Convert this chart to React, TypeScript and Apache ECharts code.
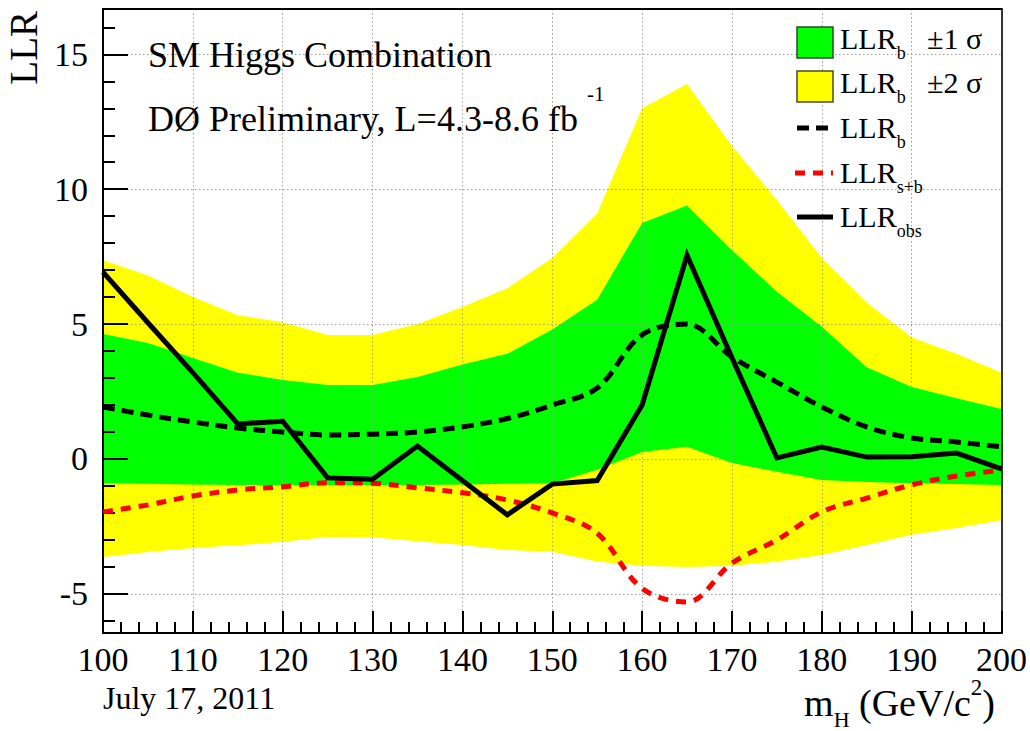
import React, { useEffect, useRef } from "react";
import * as echarts from "echarts";

// Higgs mass points (GeV/c^2)
const massH = [100, 105, 110, 115, 120, 125, 130, 135, 140, 145, 150, 155, 160, 165, 170, 175, 180, 185, 190, 195, 200];
// observed LLR
const llrObs = [6.93, 5.05, 3.2, 1.3, 1.4, -0.7, -0.75, 0.48, -0.8, -2.07, -0.93, -0.8, 2.0, 7.55, 3.75, 0.04, 0.44, 0.07, 0.08, 0.22, -0.37];
// expected background-only LLR
const llrB = [1.93, 1.63, 1.37, 1.15, 1.0, 0.89, 0.92, 1.0, 1.19, 1.5, 2.0, 2.63, 4.6, 5.0, 3.78, 2.85, 1.93, 1.19, 0.78, 0.63, 0.45];
// expected signal+background LLR
const llrSB = [-1.96, -1.7, -1.37, -1.15, -1.03, -0.88, -0.9, -1.07, -1.25, -1.52, -2.0, -2.75, -4.8, -5.3, -3.86, -3.0, -1.96, -1.45, -0.96, -0.63, -0.41];
// +-1 sigma band of LLR_b
const band1Up = [4.63, 4.3, 3.74, 3.2, 2.93, 2.74, 2.74, 3.04, 3.5, 3.9, 4.8, 5.9, 8.75, 9.4, 7.74, 6.2, 4.9, 3.4, 2.67, 2.25, 1.85];
const band1Lo = [-0.9, -0.92, -0.95, -0.96, -0.96, -0.96, -0.96, -0.96, -0.95, -0.92, -0.9, -0.4, 0.26, 0.45, -0.15, -0.47, -0.78, -0.85, -0.9, -0.93, -0.96];
// +-2 sigma band of LLR_b
const band2Up = [7.37, 6.8, 6.0, 5.33, 5.07, 4.6, 4.6, 5.0, 5.63, 6.33, 7.45, 9.1, 13.0, 13.9, 11.6, 9.6, 7.45, 5.8, 4.5, 3.9, 3.2];
const band2Lo = [-3.63, -3.45, -3.3, -3.2, -3.07, -2.89, -2.9, -3.05, -3.19, -3.37, -3.44, -3.8, -3.96, -4.0, -3.96, -3.8, -3.56, -3.19, -2.81, -2.56, -2.26];

const yMajor = [-5, 0, 5, 10, 15];

const FONT = "'Liberation Serif', 'Times New Roman', serif";
const GREEN = "#00ff00";
const YELLOW = "#ffff00";

export default function App() {
  const ref = useRef<HTMLDivElement>(null);

  useEffect(() => {
    const chart = echarts.init(ref.current as HTMLDivElement, null, { renderer: "svg" });
    const pairs = (ys: number[]) => massH.map((x, i) => [x, ys[i]]);

    const yMin = -6.45;
    const yMax = 16.68;

    const gridLine = { show: true, lineStyle: { color: "#9a9a9a", width: 1, type: [1.5, 2.5] as any } };

    const bandSeries = (up: number[], lo: number[], color: string, z: number) => ({
      type: "custom",
      silent: true,
      z,
      data: [[massH[0], lo[0]]],
      encode: { x: 0, y: 1 },
      renderItem: (_params: any, api: any) => {
        const pts: number[][] = [];
        for (let i = 0; i < massH.length; i++) pts.push(api.coord([massH[i], up[i]]));
        for (let i = massH.length - 1; i >= 0; i--) pts.push(api.coord([massH[i], lo[i]]));
        return { type: "polygon", shape: { points: pts }, style: { fill: color, stroke: null } };
      },
    });

    const legendText = (y: number, sub: string) => ({
      type: "text",
      x: 840,
      y,
      z: 100,
      style: {
        text: `{m|LLR}{s|${sub}}`,
        fill: "#000",
        verticalAlign: "middle",
        align: "left",
        rich: {
          m: { fontSize: 30, fontFamily: FONT, lineHeight: 30, fill: "#000" },
          s: { fontSize: 18, fontFamily: FONT, lineHeight: 18, padding: [30, 0, 0, 0], fill: "#000" },
        },
      },
    });

    const option: any = {
      animation: false,
      backgroundColor: "#fff",
      grid: { left: 103, right: 28, top: 9, bottom: 98, containLabel: false },
      xAxis: [
        {
          type: "value",
          min: 100,
          max: 200,
          interval: 10,
          position: "bottom",
          z: 10,
          axisLine: { show: true, onZero: false, lineStyle: { color: "#000", width: 2 } },
          axisTick: { show: true, inside: true, length: 22, lineStyle: { color: "#000", width: 2 } },
          minorTick: { show: true, splitNumber: 5, length: 11, lineStyle: { color: "#000", width: 2 } },
          axisLabel: { color: "#000", fontFamily: FONT, fontSize: 34, margin: 9 },
          splitLine: gridLine,
        },
        {
          type: "value",
          min: 100,
          max: 200,
          position: "top",
          z: 10,
          axisLine: { show: true, onZero: false, lineStyle: { color: "#000", width: 2 } },
          axisTick: { show: false },
          axisLabel: { show: false },
          splitLine: { show: false },
        },
      ],
      yAxis: [
        {
          type: "value",
          min: yMin,
          max: yMax,
          splitNumber: 5,
          minInterval: 5,
          maxInterval: 5,
          position: "left",
          z: 10,
          axisLine: { show: true, onZero: false, lineStyle: { color: "#000", width: 2 } },
          axisTick: { show: true, inside: true, length: 25, lineStyle: { color: "#000", width: 2 } },
          minorTick: { show: true, splitNumber: 5, length: 12, lineStyle: { color: "#000", width: 2 } },
          axisLabel: {
            color: "#000",
            fontFamily: FONT,
            fontSize: 34,
            margin: 15,
            showMinLabel: false,
            showMaxLabel: false,
            formatter: (v: number) => (yMajor.indexOf(Math.round(v * 1000) / 1000) >= 0 ? String(v) : ""),
          },
          splitLine: gridLine,
        },
        {
          type: "value",
          min: yMin,
          max: yMax,
          position: "right",
          z: 10,
          axisLine: { show: true, onZero: false, lineStyle: { color: "#333", width: 2 } },
          axisTick: { show: false },
          axisLabel: { show: false },
          splitLine: { show: false },
        },
      ],
      series: [
        bandSeries(band2Up, band2Lo, YELLOW, 1),
        bandSeries(band1Up, band1Lo, GREEN, 2),
        {
          type: "line",
          name: "LLRb",
          data: pairs(llrB),
          symbol: "none",
          smooth: 0.35,
          silent: true,
          z: 12,
          lineStyle: { color: "#000", width: 5, type: [12, 7], cap: "butt" },
        },
        {
          type: "line",
          name: "LLRs+b",
          data: pairs(llrSB),
          symbol: "none",
          smooth: 0.35,
          silent: true,
          z: 12,
          lineStyle: { color: "#ff0000", width: 5, type: [10, 8], cap: "butt" },
        },
        {
          type: "line",
          name: "LLRobs",
          data: pairs(llrObs),
          symbol: "none",
          silent: true,
          z: 13,
          lineStyle: { color: "#000", width: 5, join: "miter" },
        },
      ],
      graphic: [
        // y axis title
        {
          type: "text",
          x: 23,
          y: 11,
          rotation: Math.PI / 2,
          z: 100,
          style: { text: "LLR", fill: "#000", fontFamily: FONT, fontSize: 39, lineHeight: 39, align: "right", verticalAlign: "middle" },
        },
        // x axis title
        {
          type: "text",
          x: 995,
          y: 703,
          z: 100,
          style: {
            text: "{m|m}{s|H}{m| (GeV/c}{p|2}{m|)}",
            fill: "#000",
            align: "right",
            verticalAlign: "middle",
            rich: {
              m: { fontSize: 38, fontFamily: FONT, lineHeight: 38, fill: "#000" },
              s: { fontSize: 22, fontFamily: FONT, lineHeight: 22, padding: [32, 0, 0, 0], fill: "#000" },
              p: { fontSize: 23, fontFamily: FONT, lineHeight: 23, padding: [0, 0, 32, 0], fill: "#000" },
            },
          },
        },
        {
          type: "text",
          x: 103,
          y: 698,
          z: 100,
          style: { text: "July 17, 2011", fill: "#000", fontFamily: FONT, fontSize: 32, align: "left", verticalAlign: "middle" },
        },
        {
          type: "text",
          x: 148,
          y: 55,
          z: 100,
          style: { text: "SM Higgs Combination", fill: "#000", fontFamily: FONT, fontSize: 36, align: "left", verticalAlign: "middle" },
        },
        {
          type: "text",
          x: 148,
          y: 119,
          z: 100,
          style: {
            text: "{m|DØ Preliminary, L=4.3-8.6 fb }{p|-1}",
            fill: "#000",
            align: "left",
            verticalAlign: "middle",
            rich: {
              m: { fontSize: 36, fontFamily: FONT, lineHeight: 36, fill: "#000" },
              p: { fontSize: 21, fontFamily: FONT, lineHeight: 21, padding: [0, 0, 50, 0], fill: "#000" },
            },
          },
        },
        // legend
        { type: "rect", z: 100, shape: { x: 797, y: 27, width: 36, height: 31 }, style: { fill: GREEN, stroke: "#2a4a2a", lineWidth: 1.5 } },
        { type: "rect", z: 100, shape: { x: 797, y: 71, width: 36, height: 31 }, style: { fill: YELLOW, stroke: "#4a4a2a", lineWidth: 1.5 } },
        { type: "line", z: 100, shape: { x1: 797, y1: 128, x2: 833, y2: 128 }, style: { stroke: "#000", lineWidth: 5, lineDash: [12, 7] } },
        { type: "line", z: 100, shape: { x1: 795, y1: 173, x2: 833, y2: 173 }, style: { stroke: "#ff0000", lineWidth: 5, lineDash: [10, 8] } },
        { type: "line", z: 100, shape: { x1: 797, y1: 217, x2: 833, y2: 217 }, style: { stroke: "#000", lineWidth: 5 } },
        legendText(38, "b"),
        legendText(82, "b"),
        legendText(127, "b"),
        legendText(172, "s+b"),
        legendText(216, "obs"),
        {
          type: "text",
          x: 927,
          y: 38,
          z: 100,
          style: { text: "±1 σ", fill: "#000", fontFamily: FONT, fontSize: 30, align: "left", verticalAlign: "middle" },
        },
        {
          type: "text",
          x: 927,
          y: 82,
          z: 100,
          style: { text: "±2 σ", fill: "#000", fontFamily: FONT, fontSize: 30, align: "left", verticalAlign: "middle" },
        },
      ],
    };

    chart.setOption(option);
    return () => chart.dispose();
  }, []);

  return (
    <div
      ref={ref}
      style={{ position: "fixed", left: 0, top: 0, width: 1030, height: 731, background: "#fff" }}
    />
  );
}
